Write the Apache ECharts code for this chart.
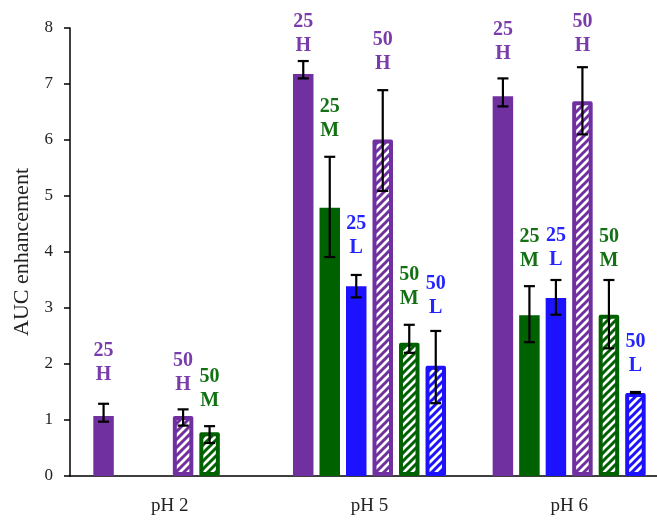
<!DOCTYPE html>
<html>
<head>
<meta charset="utf-8">
<script src="https://cdn.jsdelivr.net/npm/echarts@6/dist/echarts.min.js"></script>
<style>
  html, body { margin: 0; padding: 0; background: #fff; }
  #chart { width: 657px; height: 520px; }
</style>
</head>
<body>
<div id="chart"></div>
<script>
// Categories and series
const categories = ['pH 2', 'pH 5', 'pH 6'];
const seriesLabels = ['25\nH', '25\nM', '25\nL', '50\nH', '50\nM', '50\nL'];

// Mean AUC enhancement per series (null = not measured)
const auc25H = [1.07, 7.18, 6.78];
const auc25M = [null, 4.79, 2.87];
const auc25L = [null, 3.39, 3.18];
const auc50H = [1.07, 6.01, 6.69];
const auc50M = [0.78, 2.38, 2.88];
const auc50L = [null, 1.97, 1.48];

// Error bar ends (low / high)
const low25H = [0.97, 7.10, 6.60];
const high25H = [1.29, 7.41, 7.10];
const low25M = [null, 3.91, 2.39];
const high25M = [null, 5.70, 3.39];
const low25L = [null, 3.19, 2.88];
const high25L = [null, 3.59, 3.50];
const low50H = [0.90, 5.09, 6.10];
const high50H = [1.19, 6.89, 7.30];
const low50M = [0.59, 2.20, 2.28];
const high50M = [0.89, 2.70, 3.50];
const low50L = [null, 1.30, 1.48];
const high50L = [null, 2.59, 1.50];

// Y axis ticks
const yMin = 0, yMax = 8, yStep = 1;

const values = [auc25H, auc25M, auc25L, auc50H, auc50M, auc50L];
const lows = [low25H, low25M, low25L, low50H, low50M, low50L];
const highs = [high25H, high25M, high25L, high50H, high50M, high50L];

// Styling
const PURPLE = '#7030A0', GREEN = '#006100', BLUE = '#1c12ff';
const barColors = [PURPLE, GREEN, BLUE, PURPLE, GREEN, BLUE];
const labelColors = ['#7a3bab', '#137013', '#2424ff', '#7a3bab', '#137013', '#2424ff'];
const hatched = [false, false, false, true, true, true];
const BAR_W = 20.5, BAR_STEP = 26.5;
// pixel space between error-bar top and label baseline
const labelSpace = [
  [23, 9, 19],
  [0, 20, 19],
  [0, 21, 14],
  [19, 20, 15],
  [19, 20, 13],
  [0, 17, 20]
];

function stripePattern(color) {
  const c = document.createElement('canvas');
  c.width = 8; c.height = 8;
  const g = c.getContext('2d');
  g.fillStyle = '#fff';
  g.fillRect(0, 0, 8, 8);
  g.strokeStyle = color;
  g.lineWidth = 3;
  g.lineCap = 'square';
  g.beginPath();
  g.moveTo(-2, 10); g.lineTo(10, -2);
  g.moveTo(-2, 2); g.lineTo(2, -2);
  g.moveTo(6, 10); g.lineTo(10, 6);
  g.stroke();
  return c;
}

const series = values.map((arr, i) => {
  const s = {
    type: 'bar',
    name: seriesLabels[i],
    data: arr,
    barWidth: BAR_W,
    barGap: ((BAR_STEP - BAR_W) / BAR_W * 100).toFixed(1) + '%',
    itemStyle: { color: barColors[i] },
    z: 2
  };
  if (hatched[i]) {
    s.itemStyle = {
      color: { image: stripePattern(barColors[i]), repeat: 'repeat' },
      borderColor: barColors[i],
      borderWidth: 4,
      borderJoin: 'round'
    };
  }
  return s;
});

// Error bars + series labels
const errData = [];
lows.forEach((arr, s) => {
  arr.forEach((lo, c) => {
    if (lo !== null) errData.push([c, lo, highs[s][c], s]);
  });
});

series.push({
  type: 'custom',
  data: errData,
  encode: { x: 0, y: [1, 2] },
  clip: false,
  z: 10,
  renderItem: function (params, api) {
    const c = api.value(0);
    const s = api.value(3);
    const lo = api.coord([c, api.value(1)]);
    const hi = api.coord([c, api.value(2)]);
    const x = lo[0] + (s - 2.5) * BAR_STEP;
    const cap = 5.5;
    const ls = { stroke: '#000', lineWidth: 2.2 };
    return {
      type: 'group',
      children: [
        { type: 'line', shape: { x1: x, y1: lo[1], x2: x, y2: hi[1] }, style: ls },
        { type: 'line', shape: { x1: x - cap, y1: lo[1], x2: x + cap, y2: lo[1] }, style: ls },
        { type: 'line', shape: { x1: x - cap, y1: hi[1], x2: x + cap, y2: hi[1] }, style: ls },
        {
          type: 'text',
          x: x,
          y: hi[1] - labelSpace[s][c] + 6,
          style: {
            text: seriesLabels[s],
            fill: labelColors[s],
            fontSize: 20,
            fontWeight: 'bold',
            fontFamily: '"Liberation Serif", serif',
            align: 'center',
            verticalAlign: 'bottom',
            lineHeight: 24
          }
        }
      ]
    };
  }
});

const chart = echarts.init(document.getElementById('chart'), null, { renderer: 'canvas' });
chart.setOption({
  animation: false,
  backgroundColor: '#fff',
  grid: {
    left: 70, top: 28, width: 599, height: 448,
    containLabel: false,
    outerBoundsMode: 'none'
  },
  xAxis: {
    type: 'category',
    data: categories,
    axisLine: { show: true, lineStyle: { color: '#000', width: 1.5 } },
    axisTick: { show: false },
    axisLabel: {
      color: '#222', fontSize: 19, margin: 21,
      fontFamily: '"Liberation Serif", serif'
    },
    splitLine: { show: false }
  },
  yAxis: {
    type: 'value',
    min: yMin, max: yMax, interval: yStep,
    name: 'AUC enhancement',
    nameLocation: 'middle',
    nameRotate: 90,
    nameGap: 37,
    nameTextStyle: { color: '#222', fontSize: 22, fontFamily: '"Liberation Serif", serif' },
    axisLine: { show: true, lineStyle: { color: '#000', width: 1.5 } },
    axisTick: { show: true, inside: false, length: 6, lineStyle: { color: '#000', width: 1.5 } },
    axisLabel: {
      color: '#222', fontSize: 17, margin: 17,
      fontFamily: '"Liberation Serif", serif'
    },
    splitLine: { show: false }
  },
  series: series
});
</script>
</body>
</html>
